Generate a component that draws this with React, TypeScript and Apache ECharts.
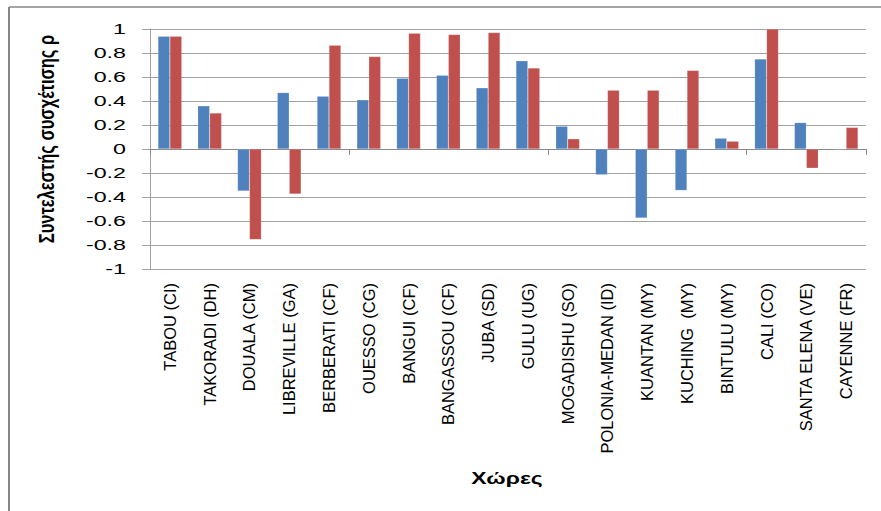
import React, { useEffect, useRef } from "react";
import * as echarts from "echarts";

const categories = [
  "TABOU (CI)",
  "TAKORADI (DH)",
  "DOUALA (CM)",
  "LIBREVILLE (GA)",
  "BERBERATI (CF)",
  "OUESSO (CG)",
  "BANGUI (CF)",
  "BANGASSOU (CF)",
  "JUBA (SD)",
  "GULU (UG)",
  "MOGADISHU (SO)",
  "POLONIA-MEDAN (ID)",
  "KUANTAN (MY)",
  "KUCHING  (MY)",
  "BINTULU (MY)",
  "CALI (CO)",
  "SANTA ELENA (VE)",
  "CAYENNE (FR)",
];

const blueValues = [0.94, 0.36, -0.35, 0.47, 0.44, 0.41, 0.59, 0.615, 0.51, 0.735, 0.19, -0.215, -0.575, -0.345, 0.09, 0.75, 0.22, 0];
const redValues = [0.94, 0.3, -0.755, -0.375, 0.865, 0.77, 0.965, 0.955, 0.97, 0.675, 0.085, 0.49, 0.49, 0.655, 0.065, 1.0, -0.16, 0.18];

const yMin = -1;
const yMax = 1;
const yInterval = 0.2;
const yTickLabels = ["-1", "-0.8", "-0.6", "-0.4", "-0.2", "0", "0.2", "0.4", "0.6", "0.8", "1"];
const yTitle = "Συντελεστής συσχέτισης ρ";
const xTitle = "Χώρες";

export default function App() {
  const ref = useRef<HTMLDivElement>(null);
  useEffect(() => {
    if (!ref.current) return;
    const chart = echarts.init(ref.current, null, { renderer: "svg" });
    const font = "'Liberation Sans', Arial, sans-serif";
    chart.setOption({
      animation: false,
      backgroundColor: "#ffffff",
      grid: { left: 150, right: 15, top: 29, bottom: 242, containLabel: false },
      xAxis: [
        {
          type: "category",
          data: categories,
          position: "bottom",
          axisLine: { show: false, onZero: false },
          axisTick: { show: false },
          axisLabel: {
            rotate: 90,
            interval: 0,
            margin: 14,
            fontSize: 16.5,
            color: "#000",
            fontFamily: font,
          },
          splitLine: { show: false },
        },
        {
          type: "category",
          data: categories,
          position: "bottom",
          axisLine: { show: true, onZero: true, lineStyle: { color: "#888888", width: 1 } },
          axisTick: { show: true, length: 6, inside: false, lineStyle: { color: "#888888" } },
          axisLabel: { show: false },
          splitLine: { show: false },
        },
      ],
      yAxis: {
        type: "value",
        min: yMin,
        max: yMax,
        interval: yInterval,
        axisLine: { show: true, lineStyle: { color: "#a0a0a0" } },
        axisTick: { show: true, length: 8, lineStyle: { color: "#a0a0a0" } },
        axisLabel: { show: false },
        splitLine: { show: true, lineStyle: { color: "#a0a0a0", width: 1 } },
      },
      series: [
        {
          type: "bar",
          xAxisIndex: 0,
          data: blueValues,
          barWidth: "30%",
          barGap: "0%",
          itemStyle: { color: "#4F81BD", borderColor: "rgba(255,255,255,0.35)", borderWidth: 0.5 },
        },
        {
          type: "bar",
          xAxisIndex: 0,
          data: redValues,
          barWidth: "30%",
          barGap: "0%",
          itemStyle: { color: "#C0504D", borderColor: "rgba(255,255,255,0.35)", borderWidth: 0.5 },
        },
      ],
    });

    const tickGraphics = yTickLabels.map((label) => {
      const v = parseFloat(label);
      const py = chart.convertToPixel({ yAxisIndex: 0 }, v) as number;
      return {
        type: "text",
        x: 126,
        y: py,
        scaleX: 1.5,
        style: {
          text: label,
          fontSize: 15.5,
          fontFamily: font,
          fill: "#000",
          align: "right",
          verticalAlign: "middle",
        },
      };
    });

    chart.setOption({
      graphic: [
        {
          type: "line",
          shape: { x1: 9, y1: 7, x2: 881, y2: 7 },
          style: { stroke: "#868686", lineWidth: 1.5 },
          silent: true,
        },
        {
          type: "line",
          shape: { x1: 9, y1: 7, x2: 9, y2: 511 },
          style: { stroke: "#868686", lineWidth: 2 },
          silent: true,
        },
        ...tickGraphics,
        {
          type: "text",
          x: 47,
          y: 139,
          rotation: Math.PI / 2,
          scaleY: 1.3,
          style: {
            text: yTitle,
            fontSize: 16.5,
            fontWeight: "bold",
            fontFamily: font,
            fill: "#000",
            align: "center",
            verticalAlign: "middle",
          },
        },
        {
          type: "text",
          x: 507,
          y: 478,
          scaleX: 1.35,
          style: {
            text: xTitle,
            fontSize: 17,
            fontWeight: "bold",
            fontFamily: font,
            fill: "#000",
            align: "center",
            verticalAlign: "middle",
          },
        },
      ],
    });
    return () => chart.dispose();
  }, []);
  return (
    <div
      ref={ref}
      style={{ position: "absolute", left: 0, top: 0, width: 881, height: 511 }}
    />
  );
}
